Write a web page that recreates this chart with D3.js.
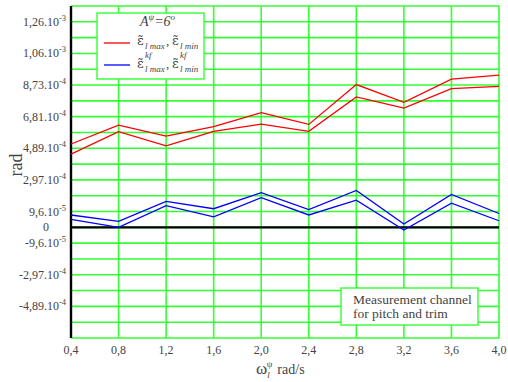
<!DOCTYPE html>
<html>
<head>
<meta charset="utf-8">
<script src="https://cdn.jsdelivr.net/npm/d3@7"></script>
<style>
  body { margin: 0; background: #fff; }
  svg text { font-family: "Liberation Serif", "Times New Roman", serif; fill: #444; }
</style>
</head>
<body>
<div id="chart"></div>
<script>
// data (rad)
var omega = [0.4, 0.8, 1.2, 1.6, 2.0, 2.4, 2.8, 3.2, 3.6, 4.0];
var epsMax = [5.06e-4, 6.21e-4, 5.54e-4, 6.12e-4, 6.97e-4, 6.25e-4, 8.67e-4, 7.59e-4, 9.00e-4, 9.24e-4];
var epsMin = [4.45e-4, 5.81e-4, 4.95e-4, 5.83e-4, 6.27e-4, 5.83e-4, 7.92e-4, 7.24e-4, 8.42e-4, 8.56e-4];
var epsKfMax = [0.75e-4, 0.36e-4, 1.57e-4, 1.13e-4, 2.11e-4, 1.08e-4, 2.24e-4, 0.20e-4, 2.00e-4, 0.84e-4];
var epsKfMin = [0.48e-4, 0.00e-4, 1.32e-4, 0.64e-4, 1.80e-4, 0.75e-4, 1.65e-4, -0.16e-4, 1.47e-4, 0.40e-4];

var xTickLabels = ["0,4", "0,8", "1,2", "1,6", "2,0", "2,4", "2,8", "3,2", "3,6", "4,0"];
var gridStep = 9.6e-5;
var yTickValues = [13, 11, 9, 7, 5, 3, 1, 0, -1, -3, -5].map(function (k) { return k * gridStep });
var yTickMant = ["1,26", "1,06", "8,73", "6,81", "4,89", "2,97", "9,6", "0", "-9,6", "-2,97", "-4,89"];
var yTickExp = ["-3", "-3", "-4", "-4", "-4", "-4", "-5", "", "-5", "-4", "-4"];

var margin = { top: 6, right: 9, bottom: 44, left: 71 },
    width = 508 - margin.left - margin.right,
    height = 382 - margin.top - margin.bottom;

var svg = d3.select("#chart")
    .append("svg")
    .attr("width", 508)
    .attr("height", 382)
    .append("g")
    .attr("transform", "translate(" + margin.left + "," + margin.top + ")");

var x = d3.scaleLinear().domain([0.4, 4.0]).range([0, width]);
var y = d3.scaleLinear().domain([-7 * gridStep, 14 * gridStep]).range([height, 0]);

// grid
var gridY = d3.range(-7, 15).map(function (k) { return k * gridStep });
svg.append("g")
    .selectAll("line.gy")
    .data(gridY)
    .enter()
    .append("line")
    .attr("x1", 0).attr("x2", width)
    .attr("y1", function (d) { return y(d) })
    .attr("y2", function (d) { return y(d) })
    .attr("stroke", "#33ff33")
    .attr("stroke-width", 1.6)

svg.append("g")
    .selectAll("line.gx")
    .data(omega)
    .enter()
    .append("line")
    .attr("y1", 0).attr("y2", height)
    .attr("x1", function (d) { return x(d) })
    .attr("x2", function (d) { return x(d) })
    .attr("stroke", "#33ff33")
    .attr("stroke-width", 1.6)

// zero line and left axis
svg.append("line")
    .attr("x1", 0).attr("x2", width)
    .attr("y1", y(0)).attr("y2", y(0))
    .attr("stroke", "black").attr("stroke-width", 2.2)
svg.append("line")
    .attr("x1", 0).attr("x2", 0)
    .attr("y1", 0).attr("y2", height)
    .attr("stroke", "black").attr("stroke-width", 2.4)

// series
var series = [
    { v: epsMax, c: "#ff0000" },
    { v: epsMin, c: "#ff0000" },
    { v: epsKfMax, c: "#0000ff" },
    { v: epsKfMin, c: "#0000ff" }
];
var line = d3.line()
    .x(function (d, i) { return x(omega[i]) })
    .y(function (d) { return y(d) });
svg.append("g")
    .selectAll("path.s")
    .data(series)
    .enter()
    .append("path")
    .attr("fill", "none")
    .attr("stroke", function (d) { return d.c })
    .attr("stroke-width", 1.3)
    .attr("d", function (d) { return line(d.v) })

// y tick labels
var yl = svg.append("g")
    .selectAll("text.yt")
    .data(yTickValues)
    .enter()
    .append("text")
    .attr("text-anchor", "end")
    .attr("x", function (d, i) { return yTickExp[i] ? -5 : -22 })
    .attr("y", function (d) { return y(d) + 4 })
    .style("font-size", "12px")
yl.append("tspan").text(function (d, i) { return yTickMant[i] + (yTickExp[i] ? ".10" : "") })
yl.append("tspan")
    .attr("dy", -5)
    .style("font-size", "8.5px")
    .text(function (d, i) { return yTickExp[i] })

// x tick labels
svg.append("g")
    .selectAll("text.xt")
    .data(omega)
    .enter()
    .append("text")
    .attr("text-anchor", "middle")
    .attr("x", function (d) { return x(d) })
    .attr("y", height + 16)
    .style("font-size", "12px")
    .text(function (d, i) { return xTickLabels[i] })

// axis titles
var xt = svg.append("text")
    .attr("x", 256 - margin.left)
    .attr("y", 374 - margin.top)
    .style("font-size", "17px")
xt.append("tspan").text("ω")
xt.append("tspan").attr("dy", 4).style("font-size", "9px").style("font-style", "italic").text("l")
xt.append("tspan").attr("dx", -3).attr("dy", -11).style("font-size", "9px").text("ψ")
xt.append("tspan").attr("dx", 5).attr("dy", 7).style("font-size", "14px").text("rad/s")

svg.append("text")
    .attr("transform", "translate(" + (22 - margin.left) + "," + (165 - margin.top) + ") rotate(-90)")
    .attr("text-anchor", "middle")
    .style("font-size", "18px")
    .text("rad")

// legend
var lg = svg.append("g").attr("transform", "translate(" + (97 - margin.left) + "," + (13 - margin.top) + ")");
lg.append("rect")
    .attr("width", 107).attr("height", 66)
    .attr("fill", "white").attr("stroke", "#33ff33").attr("stroke-width", 1.4)
var ttl = lg.append("text").attr("x", 43).attr("y", 13).style("font-size", "14px").style("font-style", "italic")
ttl.append("tspan").text("A")
ttl.append("tspan").attr("dy", -6).style("font-size", "9px").text("ψ")
ttl.append("tspan").attr("dy", 6).text("=6")
ttl.append("tspan").attr("dy", -6).style("font-size", "9px").text("o")

lg.append("line").attr("x1", 7).attr("x2", 33).attr("y1", 30).attr("y2", 30).attr("stroke", "#ff0000").attr("stroke-width", 1.3)
lg.append("line").attr("x1", 7).attr("x2", 33).attr("y1", 52).attr("y2", 52).attr("stroke", "#0000ff").attr("stroke-width", 1.3)

// one text element per legend entry, pieces placed with absolute x
function epsLabel(g, yy, sup) {
    var t = g.append("text").attr("y", yy).style("font-size", "13px")
    ;[40, 75].forEach(function (x0, k) {
        t.append("tspan").attr("x", x0).attr("y", yy).style("font-family", "'DejaVu Serif', serif").text("ε̃")
        if (sup) t.append("tspan").attr("x", x0 + 8).attr("y", yy - 10).style("font-size", "9px").style("font-style", "italic").text(sup)
        t.append("tspan").attr("x", x0 + 8).attr("y", yy + 4).style("font-size", "9px").style("font-style", "italic").text(k ? "l min" : "l max")
    })
    t.append("tspan").attr("x", 69).attr("y", yy).style("font-size", "13px").text(",")
}
epsLabel(lg, 32, null)
epsLabel(lg, 55, "kf")

// note box
var nb = svg.append("g").attr("transform", "translate(" + (341 - margin.left) + "," + (288 - margin.top) + ")");
nb.append("rect")
    .attr("width", 137).attr("height", 37)
    .attr("fill", "white").attr("stroke", "#33ff33").attr("stroke-width", 1.4)
nb.append("text").attr("x", 12).attr("y", 16).style("font-size", "13.5px").text("Measurement channel")
nb.append("text").attr("x", 12).attr("y", 30).style("font-size", "13.5px").text("for pitch and trim")
</script>
</body>
</html>
